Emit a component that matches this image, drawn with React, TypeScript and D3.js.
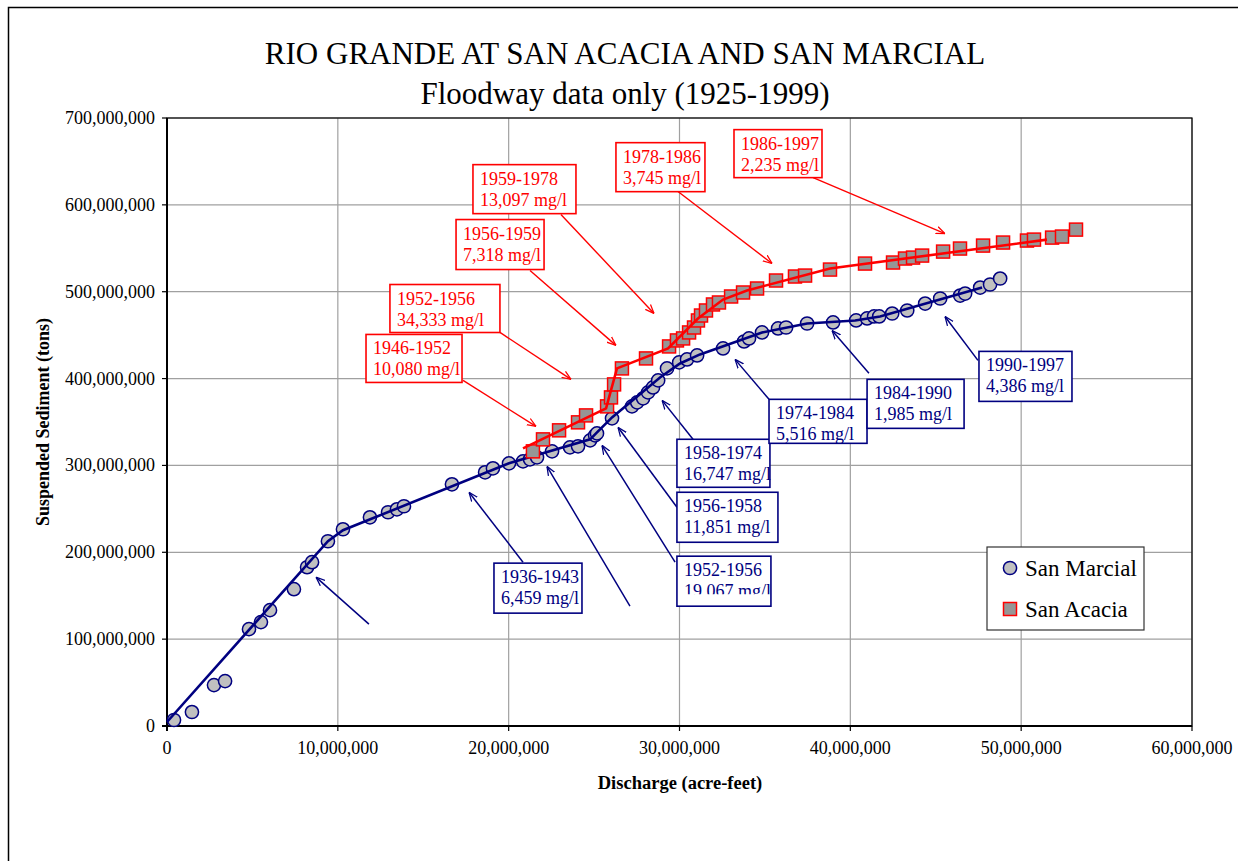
import React from "react";
import * as d3 from "d3";

const W = 1238;
const H = 861;

// San Marcial: discharge (million acre-feet) and suspended sediment (million tons)
const marcialQ = [0.41, 1.46, 2.75, 3.4, 4.8, 5.5, 6.03, 7.43, 8.2, 8.49, 9.42, 10.3, 11.88, 12.94, 13.46, 13.87, 16.68, 18.62, 19.08, 20.02, 20.84, 21.25, 21.66, 22.54, 23.59, 24.06, 24.77, 25.06, 25.17, 26.05, 27.22, 27.52, 27.87, 28.16, 28.45, 28.75, 29.27, 29.98, 30.44, 31.03, 32.55, 33.78, 34.07, 34.83, 35.77, 36.24, 37.47, 38.99, 40.34, 40.98, 41.39, 41.69, 42.45, 43.33, 44.38, 45.26, 46.43, 46.72, 47.6, 48.18, 48.77];
const marcialSed = [6.9, 16.1, 47.1, 51.7, 111.5, 119.6, 133.4, 157.5, 182.8, 188.6, 212.7, 226.5, 240.3, 246.1, 249.5, 253.0, 278.3, 292.1, 296.7, 302.4, 304.7, 307.0, 309.3, 316.2, 320.8, 322.0, 328.9, 334.6, 336.9, 354.2, 368.0, 372.6, 377.2, 384.1, 389.8, 397.9, 411.7, 418.6, 422.0, 426.6, 434.7, 442.7, 446.2, 453.1, 457.7, 458.8, 463.4, 464.6, 466.9, 469.2, 471.5, 471.5, 474.9, 478.4, 486.4, 492.2, 495.6, 497.9, 504.8, 508.3, 515.2];

// San Acacia
const acaciaQ = [21.42, 22.01, 22.95, 24.06, 24.53, 25.76, 25.99, 26.17, 26.63, 28.04, 29.39, 29.85, 30.21, 30.56, 30.85, 31.08, 31.26, 31.55, 31.96, 32.31, 33.02, 33.72, 34.54, 35.65, 36.76, 37.35, 38.81, 40.86, 42.5, 43.2, 43.67, 44.2, 45.43, 46.42, 47.77, 48.94, 50.34, 50.75, 51.81, 52.39, 53.21];
const acaciaSed = [316.2, 330.0, 340.4, 349.6, 357.6, 368.0, 378.3, 393.3, 411.7, 423.2, 437.0, 443.9, 446.2, 453.1, 458.8, 466.9, 472.6, 478.4, 485.3, 487.6, 494.5, 499.1, 503.7, 512.9, 517.5, 518.6, 525.5, 532.4, 533.6, 538.2, 539.3, 541.6, 546.2, 549.7, 553.1, 556.6, 558.9, 560.0, 562.3, 563.5, 571.5];

// piecewise trend lines (breakpoints between periods)
const marcialTrendQ = [0, 9.42, 10.3, 20.02, 24.77, 25.17, 26.05, 28.86, 30.03, 31.2, 34.83, 37.47, 40.28, 41.74, 47.71];
const marcialTrendSed = [4.6, 212.7, 225.4, 302.4, 330.0, 338.1, 355.3, 401.3, 417.4, 427.8, 453.1, 463.4, 466.9, 471.5, 504.8];
const acaciaTrendQ = [20.84, 25.7, 26.34, 29.33, 31.08, 32.55, 33.95, 38.81, 51.51];
const acaciaTrendSed = [319.7, 365.7, 411.7, 434.7, 469.2, 491.0, 501.4, 526.7, 560.0];

// callout labels
const acaciaPeriods = ["1946-1952", "1952-1956", "1956-1959", "1959-1978", "1978-1986", "1986-1997"];
const acaciaConc = ["10,080 mg/l", "34,333 mg/l", "7,318 mg/l", "13,097 mg/l", "3,745 mg/l", "2,235 mg/l"];
const marcialPeriods = ["1936-1943", "1952-1956", "1956-1958", "1958-1974", "1974-1984", "1984-1990", "1990-1997"];
const marcialConc = ["6,459 mg/l", "19,067 mg/l", "11,851 mg/l", "16,747 mg/l", "5,516 mg/l", "1,985 mg/l", "4,386 mg/l"];

// callout placement: box top-left and arrow ends in data units (million), box size in px
const acaciaCallouts = [
  { bx: 11.65, by: 450.8, w: 96, h: 48, fx: 17.33, fy: 397.9, tx: 21.6, ty: 345.0 },
  { bx: 13.05, by: 508.3, w: 110, h: 48, fx: 19.49, fy: 453.1, tx: 23.65, ty: 399.1 },
  { bx: 16.92, by: 583.1, w: 88, h: 50, fx: 21.25, fy: 524.4, tx: 26.28, ty: 438.2 },
  { bx: 17.91, by: 646.3, w: 103, h: 49, fx: 23.06, fy: 588.8, tx: 28.51, ty: 475.0 },
  { bx: 26.28, by: 671.6, w: 89, h: 49, fx: 29.91, fy: 615.3, tx: 35.42, ty: 532.5 },
  { bx: 33.19, by: 686.6, w: 88, h: 48, fx: 37.82, fy: 631.4, tx: 45.54, ty: 567.0 },
];
const marcialCallouts = [
  { bx: 19.14, by: 187.5, w: 88, h: 50, fx: 20.84, fy: 188.6, tx: 17.68, ty: 269.1, clip: false },
  { bx: 29.85, by: 195.5, w: 94, h: 50, fx: 29.74, fy: 188.6, tx: 25.46, ty: 323.2, clip: true },
  { bx: 29.85, by: 269.1, w: 101, h: 50, fx: 29.85, fy: 251.9, tx: 26.4, ty: 343.9, clip: false },
  { bx: 29.85, by: 330.1, w: 93, h: 48, fx: 30.79, fy: 330.1, tx: 28.98, ty: 374.9, clip: false },
  { bx: 35.24, by: 376.1, w: 98, h: 44, fx: 35.24, fy: 376.1, tx: 33.25, ty: 422.1, clip: false },
  { bx: 40.98, by: 399.1, w: 97, h: 49, fx: 41.09, fy: 406.0, tx: 38.93, ty: 455.4, clip: false },
  { bx: 47.53, by: 431.3, w: 93, h: 50, fx: 47.47, fy: 420.9, tx: 45.54, ty: 471.5, clip: false },
];
const looseArrows = [
  { fx: 11.82, fy: 117.3, tx: 8.72, ty: 171.4 },
  { fx: 27.1, fy: 138.0, tx: 22.24, ty: 299.0 },
];

const RED = "#ff0000";
const NAVY = "#000080";
const FONT = "'Liberation Serif', 'Times New Roman', serif";
const M = 1e6;

export default function App() {
  const left = 167, right = 1192, top = 118, bottom = 726;
  const x = d3.scaleLinear().domain([0, 60e6]).range([left, right]);
  const y = d3.scaleLinear().domain([0, 700e6]).range([bottom, top]);
  const fmt = d3.format(",");
  const xTicks = d3.range(0, 60e6 + 1, 10e6);
  const yTicks = d3.range(0, 700e6 + 1, 100e6);

  const line = d3
    .line<[number, number]>()
    .x((d) => x(d[0] * M))
    .y((d) => y(d[1] * M));
  const mTrend = line(marcialTrendQ.map((q, i) => [q, marcialTrendSed[i]]));
  const aTrend = line(acaciaTrendQ.map((q, i) => [q, acaciaTrendSed[i]]));

  const sq = 13;

  return (
    <svg width={W} height={H} style={{ position: "absolute", left: 0, top: 0 }} fontFamily={FONT}>
      <defs>
        <marker id="headRed" viewBox="0 0 10 10" refX="10" refY="5" markerWidth="9" markerHeight="9" markerUnits="userSpaceOnUse" orient="auto">
          <path d="M0,1 L10,5 L0,9" fill="none" stroke={RED} strokeWidth="1.4" />
        </marker>
        <marker id="headNavy" viewBox="0 0 10 10" refX="10" refY="5" markerWidth="9" markerHeight="9" markerUnits="userSpaceOnUse" orient="auto">
          <path d="M0,1 L10,5 L0,9" fill="none" stroke={NAVY} strokeWidth="1.4" />
        </marker>
        {marcialCallouts.map((c, i) =>
          c.clip ? (
            <clipPath id={`clip${i}`} key={i}>
              <rect x={x(c.bx * M)} y={y(c.by * M)} width={c.w} height={38} />
            </clipPath>
          ) : null
        )}
      </defs>
      <rect x={0} y={0} width={W} height={H} fill="#fff" />
      <rect x={8.5} y={7.5} width={1300} height={1000} fill="none" stroke="#000" strokeWidth={1.5} />

      <text x={625} y={64} textAnchor="middle" fontSize={31}>RIO GRANDE AT SAN ACACIA AND SAN MARCIAL</text>
      <text x={625} y={104} textAnchor="middle" fontSize={31}>Floodway data only (1925-1999)</text>

      {/* grid */}
      {xTicks.map((t) => (
        <line key={"gx" + t} x1={x(t)} x2={x(t)} y1={top} y2={bottom} stroke="#a0a0a0" strokeWidth={1.2} />
      ))}
      {yTicks.map((t) => (
        <line key={"gy" + t} x1={left} x2={right} y1={y(t)} y2={y(t)} stroke="#a0a0a0" strokeWidth={1.2} />
      ))}
      <rect x={left} y={top} width={right - left} height={bottom - top} fill="none" stroke="#000" strokeWidth={1.2} />
      <line x1={left} x2={left} y1={top} y2={bottom + 5} stroke="#000" strokeWidth={2} />
      <line x1={left - 5} x2={right} y1={bottom} y2={bottom} stroke="#000" strokeWidth={2} />

      {/* ticks */}
      {yTicks.map((t) => (
        <g key={"ty" + t}>
          <line x1={left - 5} x2={left} y1={y(t)} y2={y(t)} stroke="#000" strokeWidth={1.2} />
          <text x={155} y={y(t) + 6} textAnchor="end" fontSize={18}>{fmt(t)}</text>
        </g>
      ))}
      {xTicks.map((t) => (
        <g key={"tx" + t}>
          <line x1={x(t)} x2={x(t)} y1={bottom} y2={bottom + 5} stroke="#000" strokeWidth={1.2} />
          <text x={x(t)} y={754} textAnchor="middle" fontSize={18}>{fmt(t)}</text>
        </g>
      ))}
      <text x={680} y={789} textAnchor="middle" fontSize={18.5} fontWeight="bold">Discharge (acre-feet)</text>
      <text transform="translate(49,422) rotate(-90)" textAnchor="middle" fontSize={18} fontWeight="bold">Suspended Sediment (tons)</text>

      {/* San Marcial */}
      {marcialQ.map((q, i) => (
        <circle key={"m" + i} cx={x(q * M)} cy={y(marcialSed[i] * M)} r={6.6} fill="#c0c0c0" stroke={NAVY} strokeWidth={1.5} />
      ))}
      <path d={mTrend ?? ""} fill="none" stroke={NAVY} strokeWidth={2.6} />

      {/* San Acacia */}
      {acaciaQ.map((q, i) => (
        <rect key={"a" + i} x={x(q * M) - sq / 2} y={y(acaciaSed[i] * M) - sq / 2} width={sq} height={sq} fill="#969696" stroke={RED} strokeWidth={1.5} />
      ))}
      <path d={aTrend ?? ""} fill="none" stroke={RED} strokeWidth={2.6} />

      {/* callouts */}
      {looseArrows.map((a, i) => (
        <line key={"la" + i} x1={x(a.fx * M)} y1={y(a.fy * M)} x2={x(a.tx * M)} y2={y(a.ty * M)} stroke={NAVY} strokeWidth={1.5} markerEnd="url(#headNavy)" />
      ))}
      {acaciaCallouts.map((c, i) => {
        const bx = x(c.bx * M), by = y(c.by * M);
        return (
          <g key={"ac" + i}>
            <line x1={x(c.fx * M)} y1={y(c.fy * M)} x2={x(c.tx * M)} y2={y(c.ty * M)} stroke={RED} strokeWidth={1.4} markerEnd="url(#headRed)" />
            <rect x={bx} y={by} width={c.w} height={c.h} fill="#fff" stroke={RED} strokeWidth={1.6} />
            <text x={bx + 7} y={by + 20} fontSize={18} fill={RED}>{acaciaPeriods[i]}</text>
            <text x={bx + 7} y={by + 41} fontSize={18} fill={RED}>{acaciaConc[i]}</text>
          </g>
        );
      })}
      {marcialCallouts.map((c, i) => {
        const bx = x(c.bx * M), by = y(c.by * M);
        return (
          <g key={"mc" + i}>
            <line x1={x(c.fx * M)} y1={y(c.fy * M)} x2={x(c.tx * M)} y2={y(c.ty * M)} stroke={NAVY} strokeWidth={1.5} markerEnd="url(#headNavy)" />
            <rect x={bx} y={by} width={c.w} height={c.h} fill="#fff" stroke={NAVY} strokeWidth={1.6} />
            <g clipPath={c.clip ? `url(#clip${i})` : undefined}>
              <text x={bx + 7} y={by + 20} fontSize={18} fill={NAVY}>{marcialPeriods[i]}</text>
              <text x={bx + 7} y={by + 41} fontSize={18} fill={NAVY}>{marcialConc[i]}</text>
            </g>
          </g>
        );
      })}

      {/* legend */}
      <g>
        <rect x={987} y={547} width={157} height={83} fill="#fff" stroke="#333" strokeWidth={1.2} />
        <circle cx={1010} cy={568} r={6.6} fill="#c0c0c0" stroke={NAVY} strokeWidth={1.5} />
        <text x={1025} y={576} fontSize={23}>San Marcial</text>
        <rect x={1010 - sq / 2} y={609 - sq / 2} width={sq} height={sq} fill="#969696" stroke={RED} strokeWidth={1.5} />
        <text x={1025} y={617} fontSize={23}>San Acacia</text>
      </g>
    </svg>
  );
}
